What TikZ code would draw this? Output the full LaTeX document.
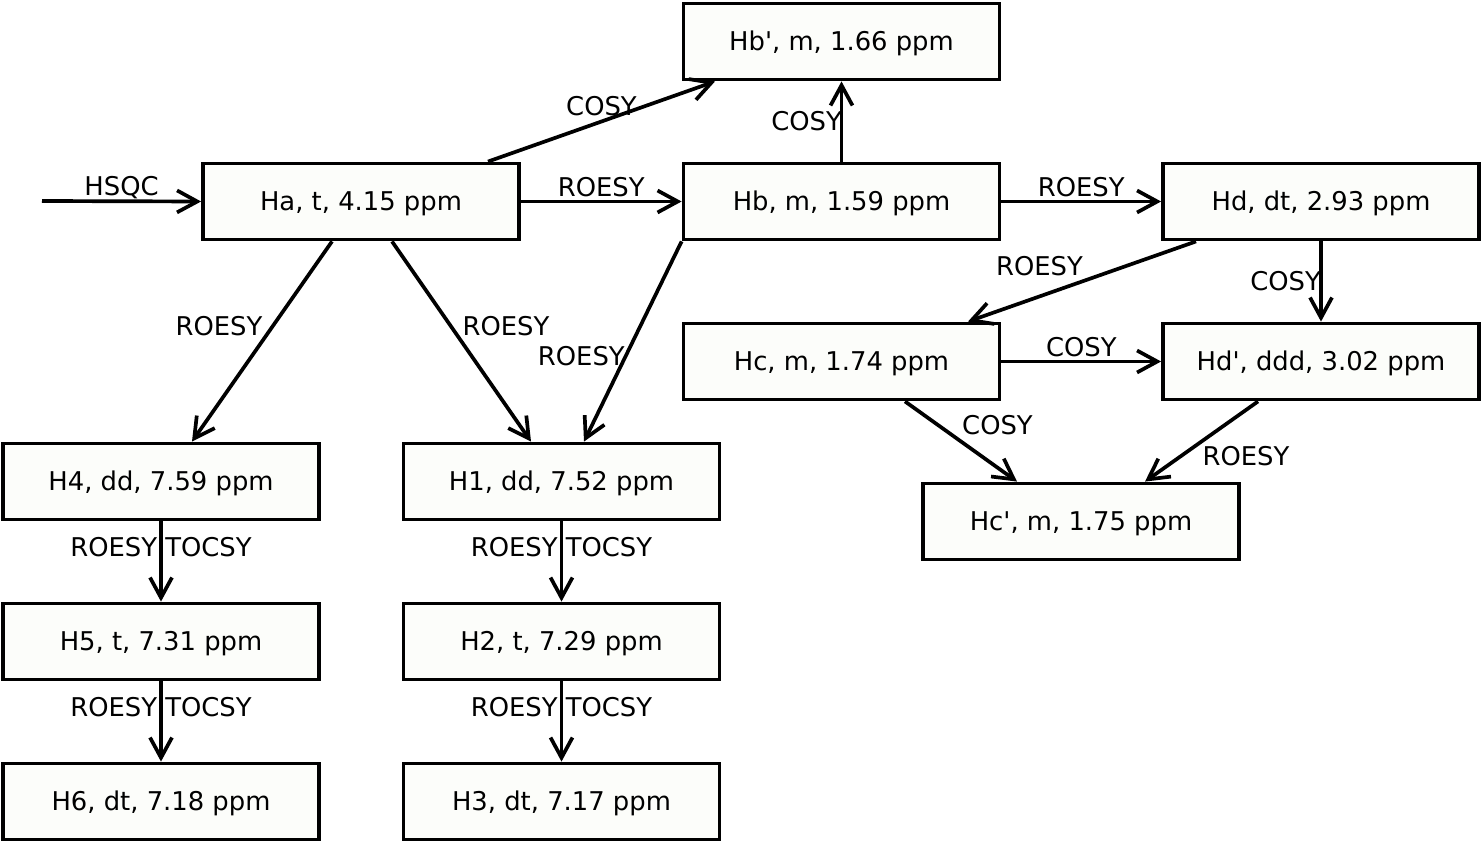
\documentclass[tikz,border=0pt]{standalone}
\usepackage{fontspec}
\setmainfont{DejaVu Sans}
\usetikzlibrary{arrows.meta}
\definecolor{boxfill}{RGB}{252,253,250}
\tikzset{hbox/.style={draw=black, fill=boxfill, line width=2.2pt, minimum width=6.32cm, minimum height=1.52cm, inner sep=0pt, text height=11.2pt, text depth=0.4pt, font=\fontsize{14.7}{17}\selectfont},
% open arrow heads like the spectra map
arr/.style={line width=2.1pt, -{Straight Barb[length=11.5pt,width=12.5pt]}},
lbl/.style={font=\fontsize{14.7}{17}\selectfont, inner sep=0pt}}

\begin{document}
\begin{tikzpicture}[x=0.02cm, y=-0.02cm]

    \useasboundingbox (0,0) rectangle (1483,844);

    \coordinate (start) at (42,201);

    \foreach \n/\x/\y/\t in {hbp/841.5/41.5/{Hb\textquotesingle, m, 1.66 ppm},
                             ha/361/201.5/{Ha, t, 4.15 ppm},
                             hb/841.5/201.5/{Hb, m, 1.59 ppm},
                             hd/1321/201.5/{Hd, dt, 2.93 ppm},
                             hc/841.5/361.5/{Hc, m, 1.74 ppm},
                             hdp/1321/361.5/{Hd\textquotesingle, ddd, 3.02 ppm},
                             hcp/1081/521.5/{Hc\textquotesingle, m, 1.75 ppm},
                             h4/161/481.5/{H4, dd, 7.59 ppm},
                             h5/161/641.5/{H5, t, 7.31 ppm},
                             h6/161/801.5/{H6, dt, 7.18 ppm},
                             h1/561.5/481.5/{H1, dd, 7.52 ppm},
                             h2/561.5/641.5/{H2, t, 7.29 ppm},
                             h3/561.5/801.5/{H3, dt, 7.17 ppm}}
    \node[hbox] (\n) at (\x,\y) {\t};

    % horizontal links
    \draw[arr] (start) -- (ha.west) node[lbl, midway, yshift=0.28cm] {HSQC};
    \draw[arr] (ha.east) -- (hb.west) node[lbl, midway, yshift=0.28cm] {ROESY};
    \draw[arr] (hb.east) -- (hd.west) node[lbl, midway, yshift=0.28cm] {ROESY};
    \draw[arr] (hc.east) -- (hdp.west) node[lbl, midway, yshift=0.28cm] {COSY};

    % vertical links on the right
    \draw[arr] (hb.north) -- (hbp.south) node[lbl, midway, xshift=-0.70cm] {COSY};
    \draw[arr] (hd.south) -- (hdp.north) node[lbl, midway, xshift=-0.71cm] {COSY};

    % slanted links
    \draw[arr] ([xshift=2.54cm]ha.north) -- ([xshift=-2.53cm]hbp.south) node[lbl, midway, yshift=0.30cm] {COSY};
    \draw[arr] ([xshift=-2.5cm]hd.south) -- ([xshift=2.53cm]hc.north) node[lbl, midway, xshift=-0.85cm, yshift=0.30cm] {ROESY};
    \draw[arr] ([xshift=1.27cm]hc.south) -- ([xshift=-1.28cm]hcp.north) node[lbl, midway, xshift=0.73cm, yshift=0.32cm] {COSY};
    \draw[arr] ([xshift=-1.26cm]hdp.south) -- ([xshift=1.28cm]hcp.north) node[lbl, midway, xshift=0.89cm, yshift=-0.29cm] {ROESY};
    \draw[arr] ([xshift=-0.58cm]ha.south) -- ([xshift=0.62cm]h4.north) node[lbl, midway, xshift=-0.86cm, yshift=0.30cm] {ROESY};
    \draw[arr] ([xshift=0.62cm]ha.south) -- ([xshift=-0.61cm]h1.north) node[lbl, midway, xshift=0.89cm, yshift=0.30cm] {ROESY};
    \draw[arr] (hb.south west) -- ([xshift=0.45cm]h1.north) node[lbl, midway, xshift=-1.03cm, yshift=-0.30cm] {ROESY};

    % aromatic chains
    \foreach \i/\j in {h4/h5, h5/h6, h1/h2, h2/h3}
    \draw[arr] (\i.south) -- (\j.north) node[lbl, pos=0.32] {ROESY TOCSY};

\end{tikzpicture}
\end{document}
